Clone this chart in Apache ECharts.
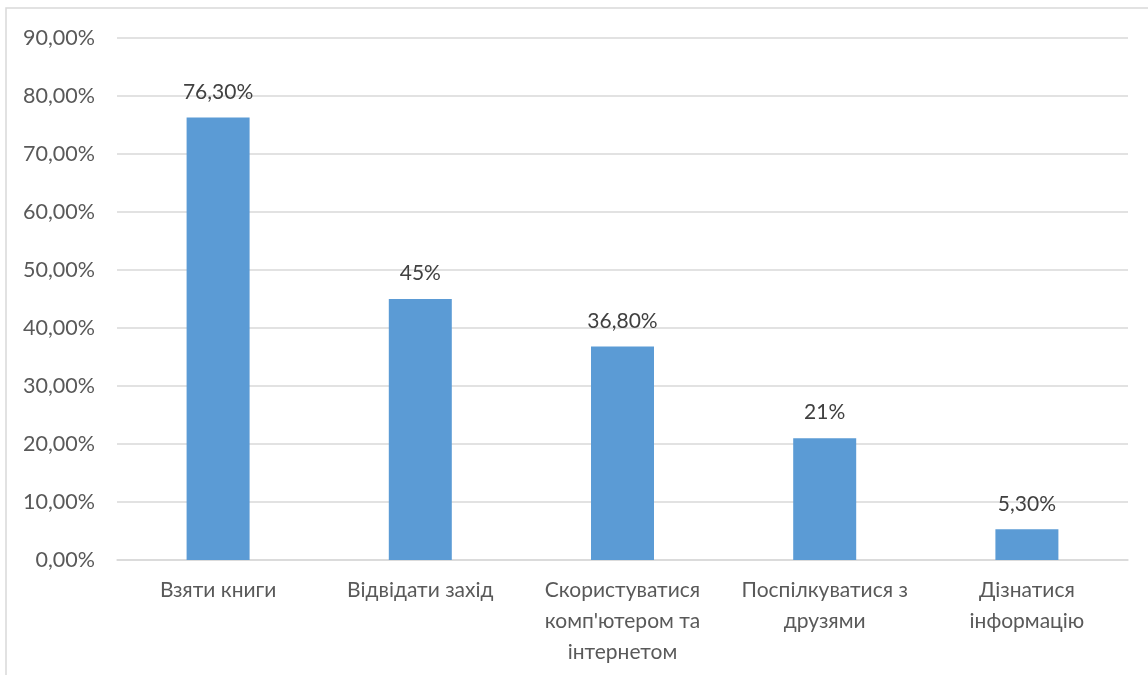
<!DOCTYPE html>
<html>
<head>
<meta charset="utf-8">
<script src="https://cdn.jsdelivr.net/npm/echarts@6/dist/echarts.min.js"></script>
<style>
  html, body { margin: 0; padding: 0; background: #fff; }
  #chart { width: 1148px; height: 675px; }
</style>
</head>
<body>
<div id="chart"></div>
<script>
// Survey: purposes of visiting the library (share of respondents, %)
const categories = [
  'Взяти книги',
  'Відвідати захід',
  'Скористуватися\nкомп\'ютером та\nінтернетом',
  'Поспілкуватися з\nдрузями',
  'Дізнатися\nінформацію'
];
const shares = [76.3, 45, 36.8, 21, 5.3];

const yMin = 0;
const yMax = 90;
const yStep = 10;

const fontFamily = 'Lato, "Open Sans", sans-serif';

function pct(v) {
  return Number.isInteger(v) ? v + '%' : v.toFixed(2).replace('.', ',') + '%';
}

const chart = echarts.init(document.getElementById('chart'), null, { renderer: 'canvas' });
chart.setOption({
  animation: false,
  backgroundColor: '#ffffff',
  graphic: [{
    type: 'rect',
    shape: { x: 6, y: 8, width: 1200, height: 700 },
    style: { fill: 'none', stroke: '#d9d9d9', lineWidth: 1.5 },
    silent: true
  }],
  grid: { left: 117, right: 20, top: 38, bottom: 115 },
  xAxis: {
    type: 'category',
    data: categories,
    axisLine: { show: true, lineStyle: { color: '#d9d9d9', width: 1.5 } },
    axisTick: { show: false },
    axisLabel: {
      color: '#595959',
      fontFamily: fontFamily,
      fontSize: 21,
      lineHeight: 31,
      margin: 15,
      interval: 0
    }
  },
  yAxis: {
    type: 'value',
    min: yMin,
    max: yMax,
    interval: yStep,
    axisLine: { show: false },
    axisTick: { show: false },
    splitLine: { lineStyle: { color: '#d9d9d9', width: 1.5 } },
    axisLabel: {
      color: '#595959',
      fontFamily: fontFamily,
      fontSize: 21.5,
      margin: 22,
      formatter: v => v.toFixed(2).replace('.', ',') + '%'
    }
  },
  series: [{
    type: 'bar',
    data: shares,
    barWidth: 63,
    itemStyle: { color: '#5b9bd5' },
    label: {
      show: true,
      position: 'top',
      distance: 15,
      color: '#404040',
      fontFamily: fontFamily,
      fontSize: 21,
      formatter: p => pct(p.value)
    }
  }]
});
</script>
</body>
</html>
